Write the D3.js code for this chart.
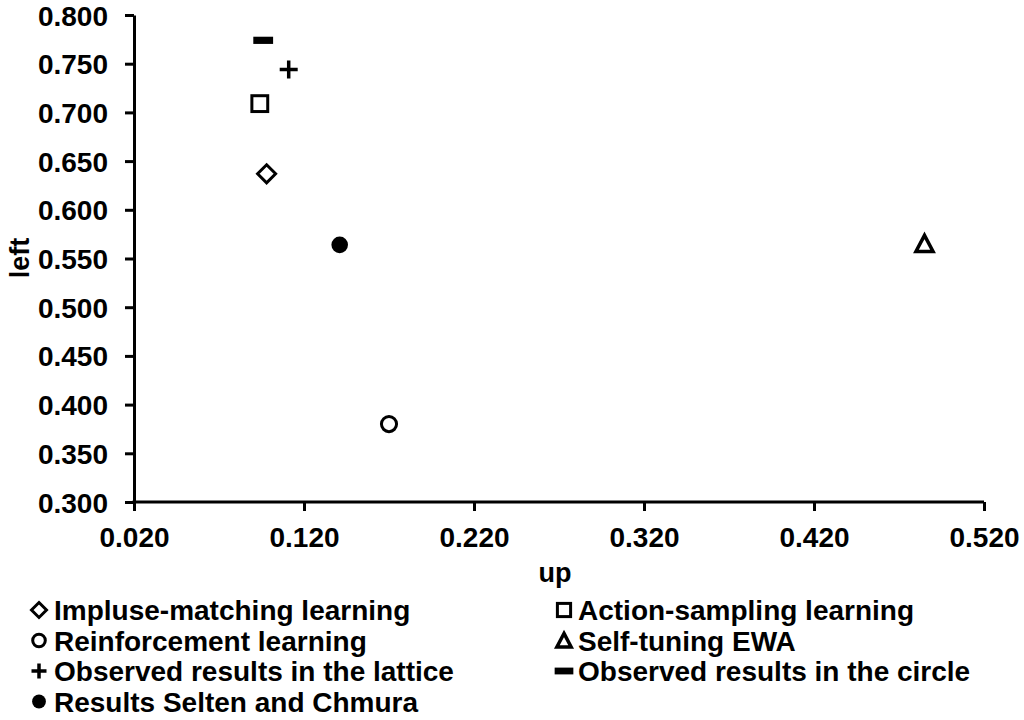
<!DOCTYPE html>
<html><head><meta charset="utf-8">
<script src="https://cdn.jsdelivr.net/npm/d3@7"></script>
<style>
html,body{margin:0;padding:0;background:#fff;}
svg text{font-family:"Liberation Sans",Arial,sans-serif;font-weight:bold;fill:#000;}
</style></head>
<body>
<svg id="chart" width="1024" height="720"></svg>
<script>
// ---- data ----
const seriesNames = ["Impluse-matching learning","Action-sampling learning","Reinforcement learning","Self-tuning EWA","Observed results in the lattice","Observed results in the circle","Results Selten and Chmura"];
const seriesMarkers = ["diamond","square","circle","triangle","plus","minus","dot"];
const upValues   = [0.098, 0.094, 0.170, 0.485, 0.111, 0.096, 0.141];
const leftValues = [0.637, 0.709, 0.380, 0.565, 0.744, 0.774, 0.564];
const xTicks = [0.02,0.12,0.22,0.32,0.42,0.52];
const yTicks = [0.30,0.35,0.40,0.45,0.50,0.55,0.60,0.65,0.70,0.75,0.80];
const legendOrder = [0,1,2,3,4,5,6];

const svg = d3.select("#chart");
const x = d3.scaleLinear().domain([0.02,0.52]).range([134,984]);
const y = d3.scaleLinear().domain([0.30,0.80]).range([502,15]);

// axes
const xAxis = d3.axisBottom(x).tickValues(xTicks).tickFormat(d3.format(".3f")).tickSize(9).tickSizeOuter(0);
const yAxis = d3.axisLeft(y).tickValues(yTicks).tickFormat(d3.format(".3f")).tickSize(9).tickSizeOuter(0);
const gx = svg.append("g").attr("transform","translate(0,502)").call(xAxis);
const gy = svg.append("g").attr("transform","translate(134,0)").call(yAxis);
[gx,gy].forEach(g=>{
  g.select(".domain").attr("stroke","#000").attr("stroke-width",3);
  g.selectAll(".tick line").attr("stroke","#000").attr("stroke-width",3);
  g.selectAll(".tick text").style("font-size","28px").attr("fill","#000");
});
gx.selectAll(".tick text").attr("dy",null).attr("y",45);
gy.selectAll(".tick text").attr("x",-26).attr("dy","0.36em");
gx.select(".domain").attr("d",`M${x(0.02)-1.5},0H${x(0.52)}`);

// axis titles
svg.append("text").attr("x",555).attr("y",582).attr("text-anchor","middle").style("font-size","27px").text("up");
svg.append("text").attr("transform","translate(29,258) rotate(-90)").attr("text-anchor","middle").style("font-size","27px").text("left");

// marker drawer
function drawMarker(g, type, s){
  const sw = 3;
  if(type==="diamond"){
    const h=s/2;
    g.append("path").attr("d",`M0,${-h}L${h},0L0,${h}L${-h},0Z`).attr("fill","#fff").attr("stroke","#000").attr("stroke-width",sw);
  } else if(type==="square"){
    const h=s*0.44;
    g.append("rect").attr("x",-h).attr("y",-h).attr("width",2*h).attr("height",2*h).attr("fill","#fff").attr("stroke","#000").attr("stroke-width",sw);
  } else if(type==="circle"){
    g.append("circle").attr("r",s*0.42).attr("fill","#fff").attr("stroke","#000").attr("stroke-width",sw);
  } else if(type==="triangle"){
    const h=s/2;
    g.append("path").attr("d",`M0,${-h*0.95}L${h*0.95},${h*0.85}L${-h*0.95},${h*0.85}Z`).attr("fill","#fff").attr("stroke","#000").attr("stroke-width",sw+0.5).attr("stroke-linejoin","miter");
  } else if(type==="plus"){
    const h=s/2;
    g.append("path").attr("d",`M${-h},0H${h}M0,${-h}V${h}`).attr("stroke","#000").attr("stroke-width",sw+0.5).attr("fill","none");
  } else if(type==="minus"){
    g.append("rect").attr("x",-s*0.55).attr("y",-s*0.2).attr("width",s*1.1).attr("height",s*0.4).attr("fill","#000");
  } else if(type==="dot"){
    g.append("circle").attr("r",s*0.46).attr("fill","#000");
  }
}

// points
const pts = svg.append("g");
seriesNames.forEach((n,i)=>{
  const g = pts.append("g").attr("transform",`translate(${x(upValues[i])},${y(leftValues[i])})`);
  drawMarker(g, seriesMarkers[i], 18);
});

// legend
const legX = [39, 564];
const legTextX = [54, 578];
const legY0 = 610, legDY = 30.5;
legendOrder.forEach((idx,k)=>{
  const col = k%2, row = Math.floor(k/2);
  const cy = legY0 + row*legDY;
  const g = svg.append("g").attr("transform",`translate(${legX[col]},${cy})`);
  drawMarker(g, seriesMarkers[idx], seriesMarkers[idx]==="minus" ? 17 : 15);
  svg.append("text").attr("x",legTextX[col]).attr("y",cy).attr("dy","0.36em").style("font-size","28px").text(seriesNames[idx]);
});
</script>
</body></html>
